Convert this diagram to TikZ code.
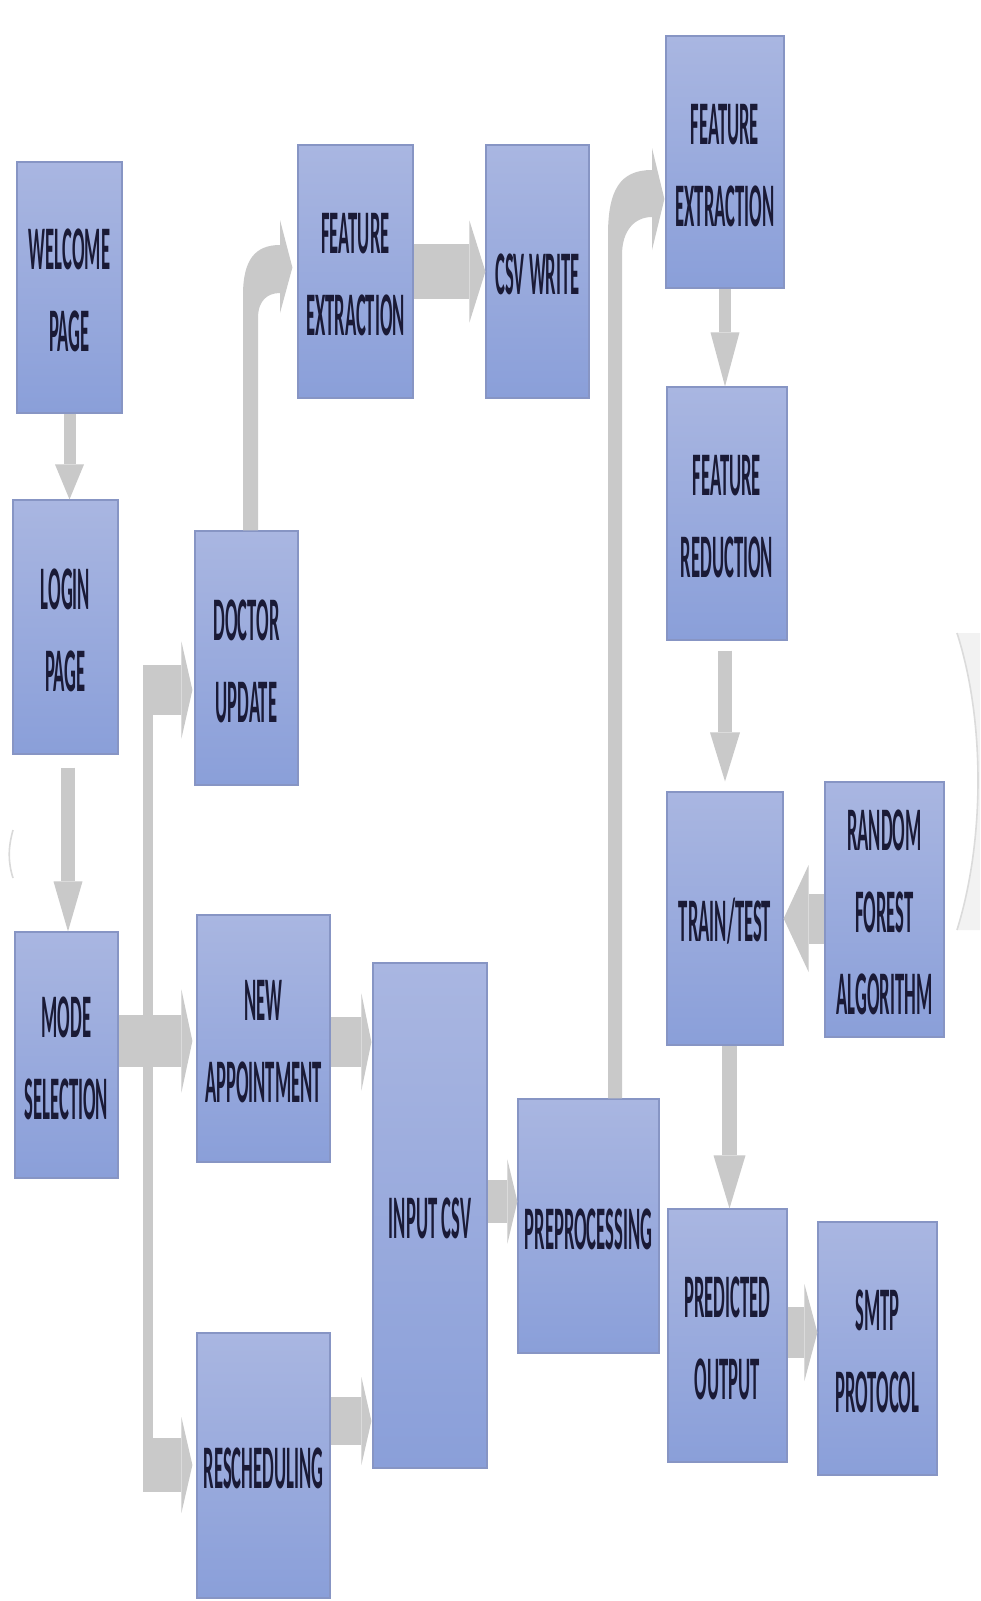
\documentclass[tikz,border=0pt]{standalone}
\usepackage{fontspec}
\setmainfont{Carlito}
\usepackage{graphicx}
\usetikzlibrary{arrows.meta,calc}
\definecolor{boxtop}{HTML}{A9B6E1}
\definecolor{boxbot}{HTML}{8A9FD9}
\definecolor{boxedge}{HTML}{8795C4}
\definecolor{agray}{HTML}{C9C9C9}
\definecolor{ink}{HTML}{1A1A36}
\newsavebox\lblbox
\newcommand\lbl[1]{\sbox\lblbox{\scalebox{0.30}[1]{\begin{tabular}{@{}c@{}}#1\end{tabular}}}\raisebox{-3.5pt}[\ht\lblbox][\dp\lblbox]{\usebox\lblbox}}
\begin{document}
\begin{tikzpicture}[x=0.5pt,y=-0.5pt,
  blk/.style args={#1/#2}{draw=boxedge, line width=0.6pt, top color=boxtop, bottom color=boxbot,
    minimum width=#1*0.5pt, minimum height=#2*0.5pt, inner sep=0pt,
    font=\fontsize{31}{41}\selectfont\bfseries, text=ink},
  arr/.style args={#1/#2/#3}{draw=agray, line width=#1, -{Triangle[width=#2,length=#3,line width=0pt]}},
  bus/.style={draw=agray, line width=5pt}]
\useasboundingbox[fill=white] (0,0) rectangle (980,1601);

% faint artefacts
\fill[black!5] (957,633) .. controls (985,720) and (985,840) .. (957,930) -- (980,930) -- (980,633) -- cycle;
\draw[black!14, line width=0.8pt] (957,633) .. controls (985,720) and (985,840) .. (957,930);
\draw[black!15, line width=0.8pt] (13,830) .. controls (8,848) and (8,862) .. (13,878);

% boxes
\node[blk={105/251}] (wel) at (69.5,287.5) {\lbl{WELCOME\\PAGE}};
\node[blk={105/254}] (log) at (65.5,627) {\lbl{LOGIN\\PAGE}};
\node[blk={103/246}] (mode) at (66.5,1055) {\lbl{MODE\\SELECTION}};
\node[blk={103/254}] (doc) at (246.5,658) {\lbl{DOCTOR\\UPDATE}};
\node[blk={115/253}] (fe1) at (355.5,271.5) {\lbl{FEATURE\\EXTRACTION}};
\node[blk={103/253}] (csv) at (537.5,271.5) {\lbl{CSV WRITE}};
\node[blk={133/247}] (napp) at (263.5,1038.5) {\lbl{NEW\\APPOINTMENT}};
\node[blk={133/265}] (resch) at (263.5,1465.5) {\lbl{RESCHEDULING}};
\node[blk={114/505}] (incsv) at (430,1215.5) {\lbl{INPUT CSV}};
\node[blk={141/254}] (pre) at (588.5,1226) {\lbl{PREPROCESSING}};
\node[blk={118/252}] (fe2) at (725,162) {\lbl{FEATURE\\EXTRACTION}};
\node[blk={120/253}] (fr) at (727,513.5) {\lbl{FEATURE\\REDUCTION}};
\node[blk={116/253}] (tt) at (725,918.5) {\lbl{TRAIN/TEST}};
\node[blk={119/255}] (rf) at (884.5,909.5) {\lbl{RANDOM\\FOREST\\ALGORITHM}};
\node[blk={119/253}] (pred) at (727.5,1335.5) {\lbl{PREDICTED\\OUTPUT}};
\node[blk={119/253}] (smtp) at (877.5,1348.5) {\lbl{SMTP\\PROTOCOL}};

% vertical arrows
\draw[arr={6pt/14.5pt/17.5pt}] (wel.south) -- (wel.south |- log.north);
\draw[arr={7pt/14.5pt/25pt}] ($(log.south)+(2.5,13)$) -- ($(log.south |- mode.north)+(2.5,0)$);
\draw[arr={6pt/14.5pt/27pt}] (fe2.south) -- (fe2.south |- fr.north);
\draw[arr={7pt/15pt/24.5pt}] ($(fr.south)+(-2,10)$) -- ($(fr.south |- tt.north)+(-2,-10)$);
\draw[arr={7.5pt/16pt/26.5pt}] ($(tt.south)+(4.5,0)$) -- ($(tt.south |- pred.north)+(4.5,0)$);

% horizontal arrows
\draw[arr={27.5pt/51pt/8pt}] (fe1.east) -- (fe1.east -| csv.west);
\draw[arr={25pt/48.5pt/5pt}] ($(napp.east)+(0,3.5)$) -- ($(napp.east -| incsv.west)+(-1,3.5)$);
\draw[arr={24pt/44pt/5pt}] (resch.east |- 0,1421) -- ($(incsv.west |- 0,1421)+(-1,0)$);
\draw[arr={21.5pt/42pt/5pt}] (incsv.east |- 0,1201.5) -- (pre.west |- 0,1201.5);
\draw[arr={25.5pt/48.5pt/6.5pt}] ($(pred.east)+(0,-3)$) -- ($(pred.east -| smtp.west)+(0,-3)$);
\draw[arr={25pt/53.5pt/12.5pt}] (rf.west |- tt.east) -- (tt.east);
\draw[arr={26pt/51.5pt/5.5pt}] (mode.east |- 0,1041) -- ($(napp.west |- 0,1041)+(-4,0)$);

% bus from mode selection
\coordinate (bt) at (148,665);
\coordinate (bb) at (148,1492);
\coordinate (bj1) at (143,690);
\coordinate (bj2) at (143,1465);
\draw[bus] (bt) -- (bb);
\draw[arr={25pt/48.5pt/5.5pt}] (bj1) -- ($(doc.west |- bj1)+(-2,0)$);
\draw[arr={27pt/48pt/5.5pt}] (bj2) -- ($(resch.west |- bj2)+(-4,0)$);

% bent arrows
\fill[agray] ($(doc.north)+(-3.5,0)$) -- (243,295) .. controls (243,260) and (255,245) .. (280,245)
  -- (280,220) -- ($(fe1.west)+(-5,-4)$) -- (280,313) -- (280,293)
  .. controls (268,293) and (258,300) .. (258,318) -- ($(doc.north)+(11.5,0)$) -- cycle;
\fill[agray] ($(pre.north)+(19.5,0)$) -- (608,235) .. controls (608,190) and (620,170) .. (652,170)
  -- (652,148) -- ($(fe2.west)+(-1,37)$) -- (652,250) -- (652,217)
  .. controls (635,217) and (622,230) .. (622,255) -- ($(pre.north)+(33.5,0)$) -- cycle;
\end{tikzpicture}
\end{document}
